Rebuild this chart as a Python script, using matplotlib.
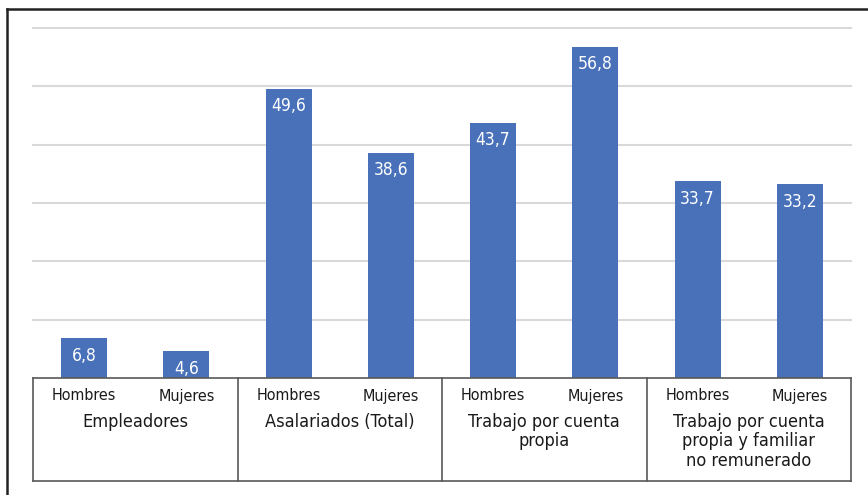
import matplotlib.pyplot as plt
from matplotlib.transforms import blended_transform_factory

sexes = ['Hombres', 'Mujeres']
groups = ['Empleadores', 'Asalariados (Total)', 'Trabajo por cuenta\npropia',
          'Trabajo por cuenta\npropia y familiar\nno remunerado']
values = [6.8, 4.6, 49.6, 38.6, 43.7, 56.8, 33.7, 33.2]

plt.rcParams['font.family'] = ['DejaVu Sans']
plt.rcParams['font.stretch'] = 'condensed'

fig = plt.figure(figsize=(8.68, 4.95), dpi=100)
ax = fig.add_axes([33 / 868, 1 - 378 / 495, (851 - 33) / 868, (378 - 28) / 495])

x = list(range(len(values)))
ax.set_axisbelow(True)
ax.bar(x, values, width=0.45, color='#4871BA', zorder=2)
for xi, v in zip(x, values):
    ax.annotate(f'{v:.1f}'.replace('.', ','), (xi, v), xytext=(0, -12.5),
                textcoords='offset points', ha='center', va='center',
                color='white', fontsize=12.5)

ax.set_xlim(-0.5, 7.5)
ax.set_ylim(0, 60)
ax.set_yticks(range(10, 61, 10))
ax.yaxis.grid(True, color='#d9d9d9', linewidth=1.5)
for gl in ax.yaxis.get_gridlines():
    gl.set_clip_on(False)
ax.tick_params(left=False, labelleft=False, bottom=False, labelbottom=False)
for s in ax.spines.values():
    s.set_visible(False)

# two-level category table below the bars
tr = blended_transform_factory(ax.transData, ax.transAxes)
bot = -(481 - 378) / 350
lc = '#595959'
ax.plot([-0.5, 7.5], [0, 0], transform=tr, color=lc, lw=1.2, clip_on=False)
ax.plot([-0.5, 7.5], [bot, bot], transform=tr, color=lc, lw=1.2, clip_on=False)
for xv in [-0.5, 1.5, 3.5, 5.5, 7.5]:
    ax.plot([xv, xv], [0, bot], transform=tr, color=lc, lw=1.2, clip_on=False)

txt = '#1a1a1a'
for xi in x:
    ax.text(xi, -(396 - 378) / 350, sexes[xi % 2], transform=tr, color=txt,
            ha='center', va='center', fontsize=11.5)
for gi, g in enumerate(groups):
    ax.text(gi * 2 + 0.5, -(413 - 378) / 350, g, transform=tr, ha='center',
            va='top', fontsize=13, linespacing=1.1, color=txt)

# outer frame
fig.add_artist(plt.Line2D([7 / 868, 7 / 868], [0, 1 - 9 / 495], color='#222222', lw=1.8))
fig.add_artist(plt.Line2D([7 / 868, 1], [1 - 9 / 495, 1 - 9 / 495], color='#222222', lw=1.8))

fig.savefig('out.png', dpi=100)
